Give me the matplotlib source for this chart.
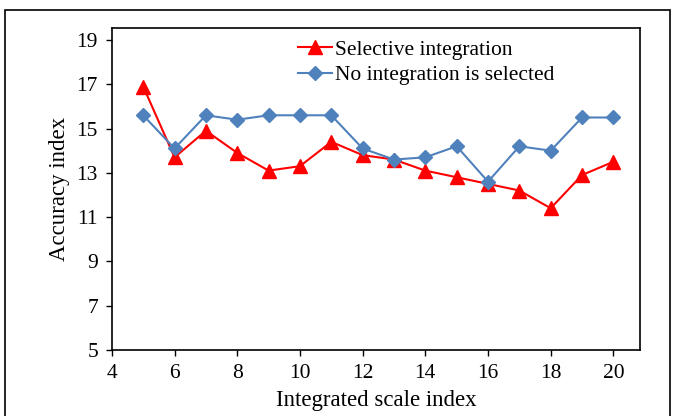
import matplotlib
matplotlib.use('Agg')
import matplotlib.pyplot as plt
from matplotlib.patches import Rectangle

plt.rcParams['font.family'] = ['Liberation Serif', 'DejaVu Serif']

scale = [5, 6, 7, 8, 9, 10, 11, 12, 13, 14, 15, 16, 17, 18, 19, 20]
selective = [16.9, 13.7, 14.9, 13.9, 13.1, 13.3, 14.4, 13.8, 13.6, 13.1, 12.8, 12.5, 12.2, 11.4, 12.9, 13.5]
no_integration = [15.6, 14.1, 15.6, 15.4, 15.6, 15.6, 15.6, 14.1, 13.6, 13.7, 14.2, 12.6, 14.2, 14.0, 15.5, 15.5]

fig = plt.figure(figsize=(6.78, 4.16), dpi=100)
ax = fig.add_axes([0.165, 0.159, 0.779, 0.774])

# outer frame around the whole chart
fig.patches.append(Rectangle((0.008, -0.05), 0.98, 1.026, transform=fig.transFigure,
                             fill=False, edgecolor='black', linewidth=1.2))

ax.plot(scale, selective, color='#ff0000', marker='^', markersize=10, linewidth=1.5,
        label='Selective integration')
ax.plot(scale, no_integration, color='#4f81bd', marker='D', markersize=7.5, linewidth=1.5,
        markerfacecolor='#4f81bd', markeredgecolor='#4f81bd', label='No integration is selected')

ax.set_xlim(4, 20.85)
ax.set_ylim(5, 19.55)
ax.set_xticks(range(4, 21, 2))
ax.set_yticks(range(5, 20, 2))
ax.tick_params(labelsize=15.5, direction='out', length=4, width=1)
ax.tick_params(axis='y', pad=6)
ax.tick_params(axis='x', pad=6)
for s in ax.spines.values():
    s.set_linewidth(1.2)

ax.set_xlabel('Integrated scale index', fontsize=16.5, labelpad=5)
ax.set_ylabel('Accuracy index', fontsize=16.5, labelpad=5)

ax.legend(loc='upper center', bbox_to_anchor=(0.595, 1.01), frameon=False, fontsize=15.5,
          handlelength=1.6, handletextpad=0.15, labelspacing=0.25, borderaxespad=0.3)

fig.savefig('out.png', dpi=100)
